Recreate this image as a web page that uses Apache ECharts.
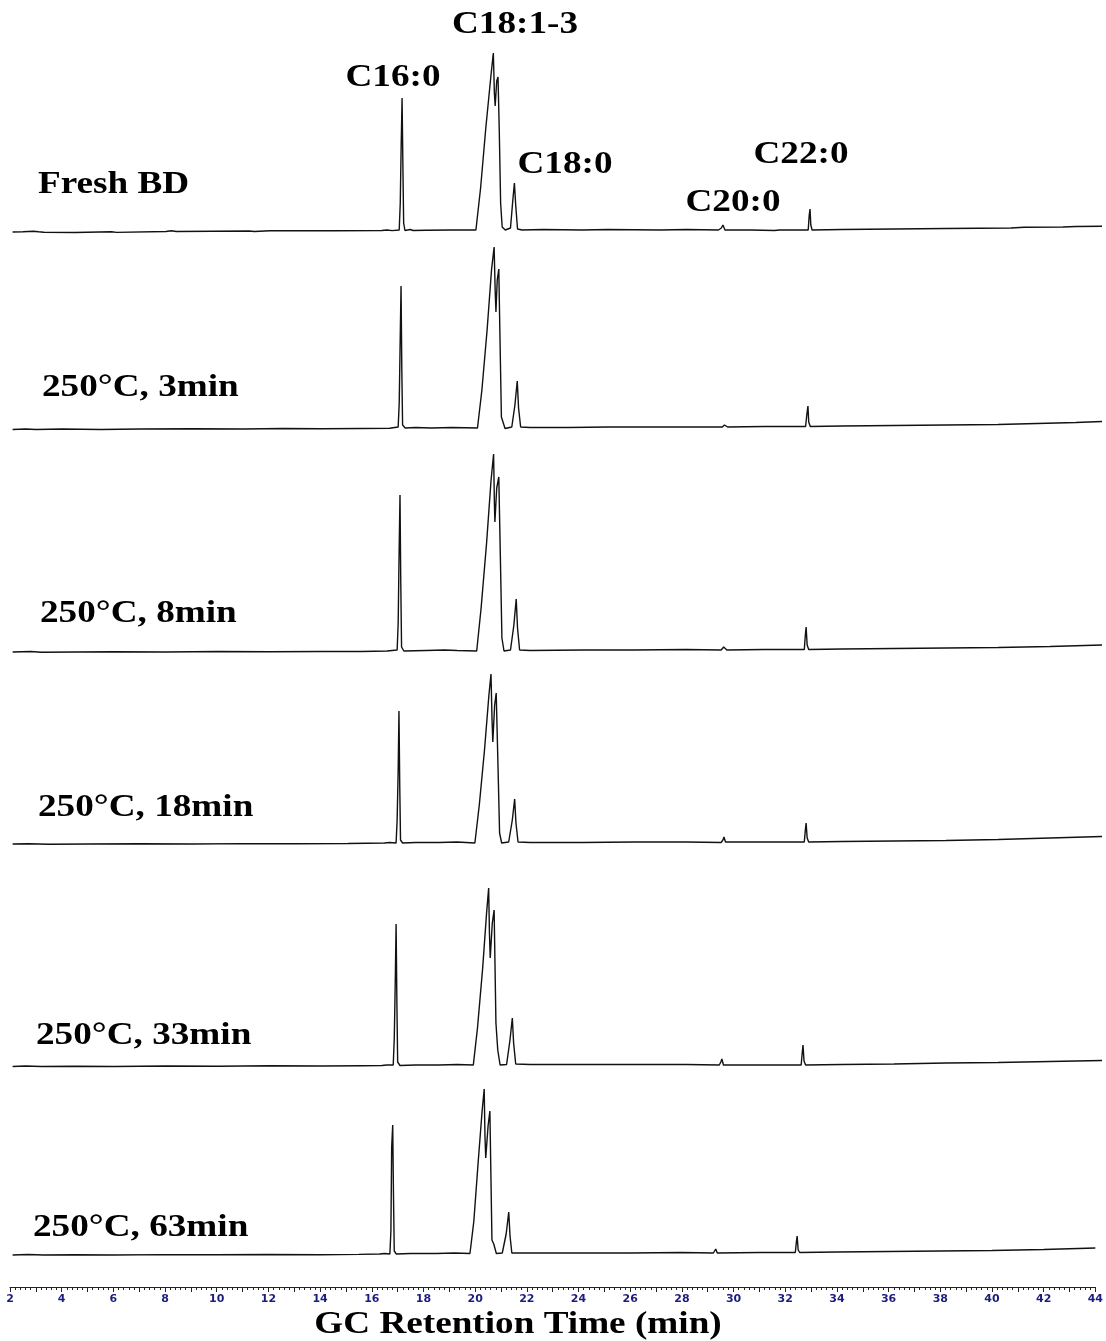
<!DOCTYPE html>
<html>
<head>
<meta charset="utf-8">
<script src="https://cdn.jsdelivr.net/npm/echarts@6/dist/echarts.min.js"></script>
<style>
  html, body { margin: 0; padding: 0; background: #fff; }
  #chart { width: 1106px; height: 1341px; }
</style>
</head>
<body>
<div id="chart"></div>
<script>
// retention time (min) vs detector signal, one list per sample
const freshBD = [
  [2.1, 1], [2.5, 1.2], [2.9, 1.8], [3.1, 1.2], [3.3, 0.8], [4.5, 0.5], [5.9, 1.2], [6.1, 0.6],
  [8.0, 1.5], [8.2, 2.2], [8.4, 1.5], [11.2, 2], [11.4, 1.5], [12.0, 2.2], [14.5, 2.3], [16.3, 2.5],
  [16.5, 3], [16.7, 2.4], [16.97, 3], [17.01, 30], [17.04, 80], [17.08, 135], [17.11, 70], [17.14, 10],
  [17.19, 2.5], [17.4, 3.5], [17.5, 2.5], [18.0, 2.8], [19.0, 3], [19.92, 3], [20.1, 45], [20.3, 105],
  [20.5, 158], [20.59, 180], [20.63, 140], [20.66, 127], [20.72, 152], [20.77, 156], [20.82, 100],
  [20.87, 30], [20.93, 6], [21.05, 3], [21.25, 5], [21.33, 30], [21.40, 50], [21.45, 28], [21.52, 4],
  [21.7, 3], [22.5, 3.5], [24.0, 3], [25.0, 3.5], [27.0, 3], [28.0, 3.5], [29.25, 3], [29.36, 5],
  [29.42, 8], [29.5, 3], [30.5, 3], [31.4, 2.5], [31.6, 3], [32.7, 3], [32.74, 18], [32.77, 24],
  [32.8, 8], [32.85, 3], [34.0, 3.5], [36.0, 4], [38.0, 4.5], [40.5, 5], [41.0, 5.8], [42.5, 6],
  [43.0, 6.5], [44.0, 6.8]
];
const min3 = [
  [2.1, 0.5], [2.6, 1], [3.0, 0.5], [4.0, 1], [5.5, 0.5], [7.0, 1], [9.0, 1.2], [11.0, 1], [12.5, 1.5],
  [14.0, 1.2], [15.5, 1.5], [16.6, 1.8], [16.93, 3], [16.97, 27], [17.0, 78], [17.04, 144], [17.07, 60],
  [17.1, 5], [17.2, 2], [17.6, 2.5], [18.2, 2], [19.0, 2.5], [19.98, 2], [20.15, 40], [20.35, 100],
  [20.52, 160], [20.62, 183], [20.66, 140], [20.69, 118], [20.74, 150], [20.80, 161], [20.84, 100],
  [20.9, 13], [21.04, 1.5], [21.3, 3], [21.42, 25], [21.51, 49], [21.56, 22], [21.64, 3], [22.0, 2.5],
  [23.5, 2.5], [25.0, 3], [27.0, 3], [29.4, 3], [29.48, 5], [29.54, 7], [29.6, 3], [31.0, 3.5],
  [32.6, 3.5], [32.65, 16], [32.69, 24], [32.72, 8], [32.78, 3.5], [34.0, 4], [36.0, 4.5], [38.0, 5],
  [40.0, 5.5], [41.5, 6.5], [43.0, 7.5], [44.0, 8.5]
];
const min8 = [
  [2.1, 1], [2.8, 1.5], [3.2, 0.8], [4.5, 1], [6.0, 1.2], [8.0, 1], [10.0, 1.5], [12.0, 1.2],
  [14.0, 1.5], [15.5, 1.5], [16.5, 2], [16.89, 3], [16.93, 30], [16.96, 90], [17.0, 158], [17.03, 70],
  [17.06, 6], [17.15, 2], [18.0, 2.5], [18.7, 3], [19.2, 2.5], [19.95, 2], [20.12, 45], [20.33, 110],
  [20.5, 172], [20.6, 199], [20.63, 150], [20.65, 131], [20.72, 165], [20.80, 176], [20.86, 96],
  [20.92, 15], [21.0, 2], [21.25, 3], [21.38, 28], [21.47, 54], [21.52, 25], [21.6, 3], [22.0, 2.5],
  [24.0, 3], [26.0, 3], [28.0, 3.5], [29.35, 3], [29.45, 6], [29.5, 8], [29.57, 3], [31.0, 3.5],
  [32.55, 3.5], [32.59, 18], [32.62, 26], [32.66, 8], [32.72, 3.5], [34.0, 4], [36.0, 4.5],
  [38.0, 5], [40.0, 5.5], [42.0, 6.5], [44.0, 8]
];
const min18 = [
  [2.1, 1], [2.7, 1.3], [3.5, 0.8], [5.0, 1], [7.0, 1.2], [9.0, 1], [11.0, 1.4], [13.0, 1.2],
  [15.0, 1.5], [16.4, 2], [16.6, 2.5], [16.85, 2], [16.89, 25], [16.93, 75], [16.96, 134], [16.99, 60],
  [17.02, 5], [17.1, 2], [17.6, 2.5], [18.5, 2.5], [19.2, 3], [19.88, 2], [20.05, 40], [20.25, 95],
  [20.42, 150], [20.5, 171], [20.54, 125], [20.57, 103], [20.64, 140], [20.70, 152], [20.77, 78],
  [20.83, 12], [20.91, 2], [21.18, 3], [21.32, 25], [21.41, 46], [21.46, 22], [21.54, 3], [22.0, 2.5],
  [24.0, 2.5], [26.0, 3], [28.0, 3], [29.35, 2.5], [29.42, 5], [29.46, 8], [29.52, 3], [31.0, 3],
  [32.55, 3], [32.59, 15], [32.62, 22], [32.66, 7], [32.72, 3], [34.0, 3.5], [36.0, 4], [38.0, 4.5],
  [40.0, 5.5], [42.0, 7], [44.0, 8.5]
];
const min33 = [
  [2.1, 1.5], [2.6, 2], [3.2, 1.5], [4.5, 1.8], [6.0, 1.5], [8.0, 2], [10.0, 1.8], [12.0, 2.2],
  [14.0, 2], [15.5, 2.3], [16.3, 2.5], [16.5, 3], [16.74, 3], [16.78, 30], [16.82, 90], [16.85, 144],
  [16.88, 65], [16.91, 6], [17.0, 2.5], [17.6, 3], [18.5, 3], [19.2, 3.5], [19.82, 3], [19.98, 40],
  [20.18, 100], [20.33, 155], [20.41, 180], [20.44, 135], [20.47, 110], [20.55, 145], [20.62, 158],
  [20.69, 45], [20.76, 18], [20.85, 3], [21.1, 3.5], [21.23, 28], [21.32, 50], [21.37, 25], [21.45, 4],
  [22.0, 3.5], [24.0, 3.5], [26.0, 3.5], [28.0, 3.5], [29.28, 3], [29.34, 6], [29.38, 9], [29.44, 3],
  [31.0, 3], [32.43, 3], [32.47, 15], [32.5, 23], [32.54, 7], [32.6, 3], [34.0, 3.5], [36.0, 4],
  [38.0, 5], [40.0, 5.5], [41.0, 6], [42.0, 6.5], [44.0, 7.5]
];
const min63 = [
  [2.1, 1], [2.7, 1.5], [3.3, 1], [4.5, 1.2], [6.0, 1], [8.0, 1.4], [10.0, 1.2], [12.0, 1.5],
  [14.0, 1.3], [15.5, 1.6], [16.3, 2], [16.5, 2.5], [16.7, 2], [16.74, 25], [16.77, 109], [16.81, 131],
  [16.84, 60], [16.87, 5], [16.95, 2], [17.5, 2.5], [18.5, 2.5], [19.2, 3], [19.8, 2.5], [19.95, 35],
  [20.12, 95], [20.27, 145], [20.35, 167], [20.38, 120], [20.41, 98], [20.5, 130], [20.57, 145],
  [20.65, 16], [20.72, 12], [20.82, 2.5], [21.05, 3], [21.2, 22], [21.30, 44], [21.35, 20], [21.42, 3],
  [22.0, 3], [24.0, 3], [26.0, 3], [28.0, 3.5], [29.22, 3], [29.27, 5], [29.31, 7], [29.37, 3],
  [31.0, 3.5], [32.39, 3.5], [32.43, 14], [32.46, 20], [32.5, 6], [32.56, 3.5], [34.0, 4], [36.0, 4.5],
  [38.0, 5], [40.0, 5.5], [42.0, 6.5], [44.0, 8]
];

const traces = [freshBD, min3, min8, min18, min33, min63];
const sampleNames = ['Fresh BD', '250°C, 3min', '250°C, 8min', '250°C, 18min', '250°C, 33min', '250°C, 63min'];
const peakNames = ['C16:0', 'C18:1-3', 'C18:0', 'C20:0', 'C22:0'];
const axisTitle = 'GC Retention Time (min)';

// layout (px)
const baselines = [233, 430, 653, 845, 1068, 1256];
const sampleLabelPos = [[38, 185], [42, 388], [40, 614], [38, 808], [36, 1036], [33, 1228]];
const peakLabelPos = [[393, 78], [515, 25], [565, 165], [733, 203], [801, 155]];
const PANEL_H = 200;
const AXIS_Y = 1287;
const FONT = 'bold 31px "Liberation Serif", "Times New Roman", serif';

const chart = echarts.init(document.getElementById('chart'));

const last = traces.length - 1;
const grid = traces.map((_, i) => ({
  left: 10, right: 4, top: baselines[i] - PANEL_H, height: PANEL_H
}));
const xAxis = traces.map((_, i) => {
  const base = { gridIndex: i, type: 'value', min: 2, max: 44, interval: 1 };
  if (i !== last) return { ...base, show: false };
  return {
    ...base,
    offset: AXIS_Y - baselines[i],
    axisLine: { onZero: false, lineStyle: { color: '#222', width: 1 } },
    axisTick: { length: 5, lineStyle: { color: '#222' } },
    minorTick: { show: true, splitNumber: 5, length: 3, lineStyle: { color: '#222' } },
    splitLine: { show: false },
    axisLabel: {
      color: '#1c1c80', fontSize: 11, fontWeight: 'bold', fontFamily: 'DejaVu Sans', margin: 7,
      formatter: (v) => (v % 2 === 0 ? String(v) : '')
    }
  };
});
const yAxis = traces.map((_, i) => ({ gridIndex: i, type: 'value', min: 0, max: PANEL_H, show: false }));

const series = traces.map((data, i) => ({
  type: 'line',
  xAxisIndex: i,
  yAxisIndex: i,
  data,
  showSymbol: false,
  clip: false,
  lineStyle: { color: '#111', width: 1.4 }
}));

function label(text, x, y, align) {
  return {
    type: 'text', x, y, scaleX: 1.2,
    style: { text, font: FONT, fill: '#000', textAlign: align, textVerticalAlign: 'middle', align, verticalAlign: 'middle' }
  };
}

const graphic = [
  ...sampleNames.map((t, i) => label(t, sampleLabelPos[i][0], sampleLabelPos[i][1], 'left')),
  ...peakNames.map((t, i) => label(t, peakLabelPos[i][0], peakLabelPos[i][1], 'center')),
  label(axisTitle, 518, 1325, 'center')
];

chart.setOption({
  animation: false,
  grid, xAxis, yAxis, series, graphic
});
</script>
</body>
</html>
